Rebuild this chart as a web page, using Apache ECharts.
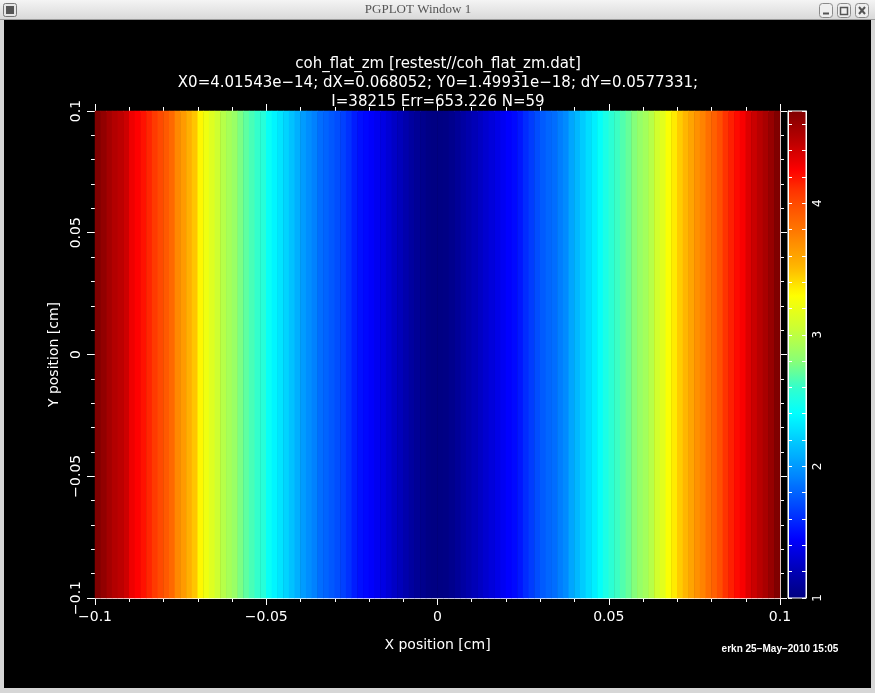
<!DOCTYPE html>
<html><head><meta charset="utf-8">
<script src="https://cdn.jsdelivr.net/npm/echarts@6/dist/echarts.min.js"></script>
<style>html,body{margin:0;padding:0;background:#d6d6d6;}#c{width:875px;height:693px;}</style>
</head><body><div id="c"></div><script>
// ---- data ----
// colour value of each of the 120 columns, left (x=-0.1) to right (x=+0.1)
const columnValues = [
  4.70, 4.63, 4.56, 4.50, 4.46, 4.41, 4.30, 4.25, 4.20, 4.14,
  4.07, 4.00, 3.93, 3.86, 3.72, 3.64, 3.55, 3.47, 3.32, 3.22,
  3.14, 3.06, 2.97, 2.91, 2.86, 2.77, 2.70, 2.65, 2.60, 2.55,
  2.43, 2.36, 2.30, 2.23, 2.16, 2.09, 2.01, 1.96, 1.91, 1.84,
  1.80, 1.76, 1.72, 1.68, 1.62, 1.55, 1.50, 1.47, 1.44, 1.40,
  1.36, 1.31, 1.26, 1.22, 1.17, 1.12, 1.08, 1.05, 1.02, 1.01,
  1.01, 1.02, 1.05, 1.09, 1.13, 1.17, 1.21, 1.25, 1.29, 1.33,
  1.37, 1.41, 1.45, 1.48, 1.53, 1.60, 1.66, 1.72, 1.77, 1.81,
  1.84, 1.90, 1.95, 2.05, 2.12, 2.20, 2.27, 2.34, 2.42, 2.50,
  2.57, 2.62, 2.67, 2.72, 2.79, 2.85, 2.90, 2.97, 3.08, 3.16,
  3.28, 3.36, 3.45, 3.52, 3.60, 3.68, 3.74, 3.83, 3.90, 3.98,
  4.10, 4.16, 4.22, 4.27, 4.36, 4.42, 4.48, 4.54, 4.61, 4.70
];
const rowCategories = ['y'];
const xRange = [-0.1, 0.1];
const yRange = [-0.1, 0.1];
const colorRange = [1, 4.7];
const titleLines = [
  'coh_flat_zm [restest//coh_flat_zm.dat]',
  'X0=4.01543e\u221214; dX=0.068052; Y0=1.49931e\u221218; dY=0.0577331;',
  'I=38215 Err=653.226 N=59'
];
const xAxisTitle = 'X position [cm]';
const yAxisTitle = 'Y position [cm]';
const stampText = 'erkn 25\u2212May\u22122010 15:05';
const windowTitle = 'PGPLOT Window 1';

// ---- colour map (style) ----
const cmapStops = [[1.0,'#000080'],[1.2,'#0000B4'],[1.45,'#0000FF'],[1.75,'#0055FF'],[2.0,'#0099FF'],
  [2.2,'#00CCFF'],[2.4,'#00FFFF'],[2.6,'#33FFCC'],[2.8,'#88FF77'],[3.05,'#CCFF33'],[3.3,'#FFFF00'],
  [3.5,'#FFBB00'],[3.72,'#FF8800'],[3.95,'#FF5500'],[4.1,'#FF3300'],[4.25,'#FF0000'],[4.45,'#C00000'],[4.7,'#800000']];
function hex2rgb(h){return [parseInt(h.substr(1,2),16),parseInt(h.substr(3,2),16),parseInt(h.substr(5,2),16)];}
function cmap(v){
  for(let k=0;k<cmapStops.length-1;k++){
    const a=cmapStops[k], b=cmapStops[k+1];
    if(v<=b[0]){const t=(v-a[0])/(b[0]-a[0]);const ca=hex2rgb(a[1]),cb=hex2rgb(b[1]);
      return 'rgb('+ca.map((c,i)=>Math.round(c+(cb[i]-c)*t)).join(',')+')';}
  }
  return cmapStops[cmapStops.length-1][1];
}
const rampColors=[];
for(let k=0;k<=74;k++){rampColors.push(cmap(colorRange[0]+k*(colorRange[1]-colorRange[0])/74));}

const FONT='DejaVu Sans';
const fmt = v => String(v).replace('-', '\u2212');
const W='#ffffff';
const lineCommon = {show:true,onZero:false,lineStyle:{color:W,width:1}};
const tickCommon = (len)=>({show:true,length:len,lineStyle:{color:W,width:1}});
const minorCommon = {show:true,splitNumber:5,length:4,lineStyle:{color:W,width:1}};

const chart = echarts.init(document.getElementById('c'));
const option = {
  backgroundColor:'#d6d6d6',
  animation:false,
  title:{text:titleLines.join('\n'),left:438,textAlign:'center',top:55,padding:0,
    textStyle:{color:W,fontFamily:FONT,fontSize:15,fontWeight:'normal',lineHeight:19}},
  grid:[
    {left:95,top:111,width:685,height:487,containLabel:false},
    {left:788,top:111,width:18,height:487,containLabel:false,show:true,borderColor:W,borderWidth:1,z:10}
  ],
  xAxis:[
    {type:'category',gridIndex:0,data:columnValues.map((_,i)=>String(i)),show:false,position:'bottom'},
    {type:'value',gridIndex:0,min:xRange[0],max:xRange[1],interval:0.05,position:'bottom',
      axisLine:lineCommon,axisTick:tickCommon(7),minorTick:minorCommon,
      splitLine:{show:false},
      axisLabel:{color:W,fontFamily:FONT,fontSize:14,margin:12,formatter:fmt},
      name:xAxisTitle,nameLocation:'middle',nameGap:40,nameTextStyle:{color:W,fontFamily:FONT,fontSize:14}},
    {type:'value',gridIndex:0,min:xRange[0],max:xRange[1],interval:0.05,position:'top',
      axisLine:lineCommon,axisTick:tickCommon(7),minorTick:minorCommon,
      splitLine:{show:false},axisLabel:{show:false}},
    {type:'value',gridIndex:1,min:0,max:1,show:false}
  ],
  yAxis:[
    {type:'category',gridIndex:0,data:rowCategories,show:false,position:'left'},
    {type:'value',gridIndex:0,min:yRange[0],max:yRange[1],interval:0.05,position:'left',
      axisLine:lineCommon,axisTick:tickCommon(8),minorTick:minorCommon,
      splitLine:{show:false},
      axisLabel:{color:W,fontFamily:FONT,fontSize:14,margin:12,rotate:90,formatter:fmt},
      name:yAxisTitle,nameLocation:'middle',nameGap:28,nameTextStyle:{color:W,fontFamily:FONT,fontSize:14}},
    {type:'value',gridIndex:0,min:yRange[0],max:yRange[1],interval:0.05,position:'right',
      axisLine:lineCommon,axisTick:tickCommon(7),minorTick:minorCommon,
      splitLine:{show:false},axisLabel:{show:false}},
    {type:'value',gridIndex:1,min:colorRange[0],max:colorRange[1],interval:1,position:'left',z:10,
      axisLine:lineCommon,
      axisTick:{show:true,inside:true,length:4,lineStyle:{color:W}},
      minorTick:{show:true,splitNumber:5,length:4,lineStyle:{color:W}},
      splitLine:{show:false},axisLabel:{show:false}},
    {type:'value',gridIndex:1,min:colorRange[0],max:colorRange[1],interval:1,position:'right',z:10,
      axisLine:lineCommon,
      axisTick:{show:true,inside:true,length:4,lineStyle:{color:W}},
      minorTick:{show:true,splitNumber:5,length:4,lineStyle:{color:W}},
      splitLine:{show:false},
      axisLabel:{show:true,color:W,fontFamily:FONT,fontSize:12,margin:6,rotate:90,showMaxLabel:false}}
  ],
  visualMap:{type:'continuous',min:colorRange[0],max:colorRange[1],seriesIndex:0,calculable:false,
    hoverLink:false,left:788,top:111,itemWidth:18,itemHeight:487,padding:0,orient:'vertical',
    inRange:{color:rampColors},textStyle:{color:W}},
  series:[{
    type:'heatmap',xAxisIndex:0,yAxisIndex:0,
    data:columnValues.map((v,i)=>[i,0,v]),
    itemStyle:{borderWidth:0},emphasis:{disabled:true},progressive:0
  }],
  graphic:[
    {type:'rect',z:-100,shape:{x:4,y:20,width:867,height:668},style:{fill:'#000'},silent:true},
    {type:'rect',z:-90,shape:{x:0,y:0,width:875,height:20},
      style:{fill:new echarts.graphic.LinearGradient(0,0,0,1,[{offset:0,color:'#f4f4f4'},{offset:1,color:'#d8d8d8'}])}},
    {type:'line',z:-80,shape:{x1:0,y1:19.5,x2:875,y2:19.5},style:{stroke:'#9a9a9a'}},
    {type:'text',z:-80,x:418,y:10,style:{text:windowTitle,fill:'#555',font:'13px "Liberation Serif"',align:'center',verticalAlign:'middle'}},
    {type:'rect',z:-80,shape:{x:3.5,y:3.5,width:13,height:13,r:2},style:{fill:'#e6e6e6',stroke:'#777'}},
    {type:'rect',z:-80,shape:{x:6,y:6,width:8,height:8},style:{fill:'#555'}},
    {type:'rect',z:-80,shape:{x:819.5,y:3.5,width:13,height:14,r:3},style:{fill:'#efefef',stroke:'#8a8a8a'}},
    {type:'rect',z:-80,shape:{x:837.5,y:3.5,width:13,height:14,r:3},style:{fill:'#efefef',stroke:'#8a8a8a'}},
    {type:'rect',z:-80,shape:{x:855.5,y:3.5,width:13,height:14,r:3},style:{fill:'#efefef',stroke:'#8a8a8a'}},
    {type:'line',z:-79,shape:{x1:823,y1:13.5,x2:829,y2:13.5},style:{stroke:'#555',lineWidth:2}},
    {type:'rect',z:-79,shape:{x:840.5,y:7.5,width:7,height:7},style:{fill:'none',stroke:'#555',lineWidth:1.5}},
    {type:'line',z:-79,shape:{x1:859,y1:7,x2:865,y2:14},style:{stroke:'#555',lineWidth:2}},
    {type:'line',z:-79,shape:{x1:865,y1:7,x2:859,y2:14},style:{stroke:'#555',lineWidth:2}},
    {type:'text',z:5,x:780,y:649,style:{text:stampText,fill:W,font:'bold 10px "Liberation Sans"',align:'center',verticalAlign:'middle'}}
  ]
};
chart.setOption(option);
</script></body></html>
